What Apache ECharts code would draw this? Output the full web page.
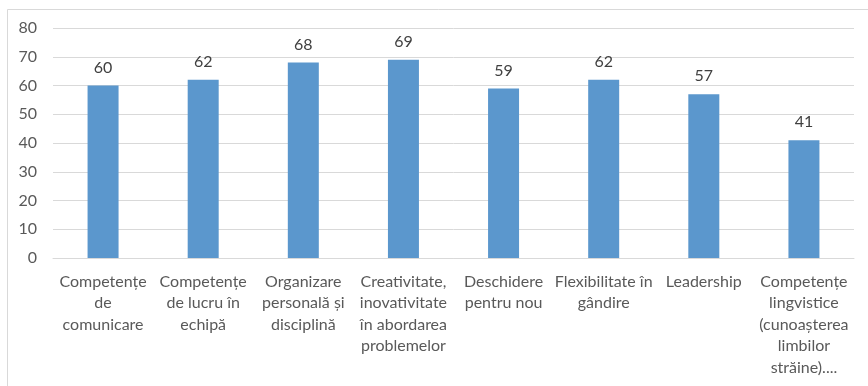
<!DOCTYPE html>
<html>
<head>
<meta charset="utf-8">
<script src="https://cdn.jsdelivr.net/npm/echarts@6/dist/echarts.min.js"></script>
<style>
  html, body { margin: 0; padding: 0; background: #ffffff; }
  #chart { width: 868px; height: 386px; }
</style>
</head>
<body>
<div id="chart"></div>
<script>
// Skill categories (wrapped over several lines like the original labels)
const categories = [
  'Competențe\nde\ncomunicare',
  'Competențe\nde lucru în\nechipă',
  'Organizare\npersonală și\ndisciplină',
  'Creativitate,\ninovativitate\nîn abordarea\nproblemelor',
  'Deschidere\npentru nou',
  'Flexibilitate în\ngândire',
  'Leadership',
  'Competențe\nlingvistice\n(cunoașterea\nlimbilor\nstrăine)....'
];
const values = [60, 62, 68, 69, 59, 62, 57, 41];
const yTicks = { min: 0, max: 80, interval: 10 };

const font = 'Lato, "Open Sans", sans-serif';
const chart = echarts.init(document.getElementById('chart'), null, { renderer: 'canvas' });

chart.setOption({
  animation: false,
  backgroundColor: '#ffffff',
  graphic: [{
    type: 'rect',
    shape: { x: 7.5, y: 9.5, width: 880, height: 400 },
    style: { fill: 'none', stroke: '#d9d9d9', lineWidth: 1 },
    silent: true
  }],
  grid: { left: 53, right: 14, top: 28, bottom: 128 },
  xAxis: {
    type: 'category',
    data: categories,
    axisLine: { show: true, lineStyle: { color: '#d9d9d9', width: 1 } },
    axisTick: { show: false },
    axisLabel: {
      interval: 0,
      color: '#595959',
      fontFamily: font,
      fontSize: 16,
      lineHeight: 21.5,
      margin: 13,
      align: 'center',
      verticalAlign: 'top'
    }
  },
  yAxis: {
    type: 'value',
    min: yTicks.min,
    max: yTicks.max,
    interval: yTicks.interval,
    axisLine: { show: false },
    axisTick: { show: false },
    splitLine: { lineStyle: { color: '#d9d9d9', width: 1 } },
    axisLabel: {
      color: '#595959',
      fontFamily: font,
      fontSize: 16,
      margin: 16
    }
  },
  series: [{
    type: 'bar',
    data: values,
    barWidth: 31,
    itemStyle: { color: '#5B97CD' },
    label: {
      show: true,
      position: 'top',
      distance: 10,
      color: '#404040',
      fontFamily: font,
      fontSize: 16
    }
  }]
});
</script>
</body>
</html>
